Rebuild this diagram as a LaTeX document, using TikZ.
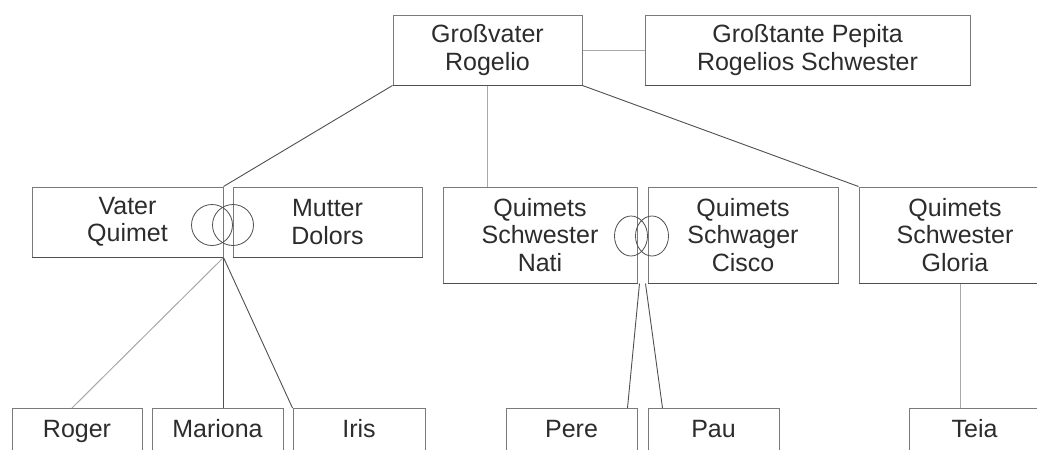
\documentclass[tikz,border=0pt]{standalone}
\usepackage{fontspec}
\setmainfont{Liberation Sans}
\usetikzlibrary{shapes.geometric}
\definecolor{txt}{HTML}{2C2C2C}
\definecolor{bord}{HTML}{7A7A7A}
\definecolor{dk}{HTML}{505050}
\definecolor{lt}{HTML}{A8A8A8}
\begin{document}
\begin{tikzpicture}[x=1pt,y=-1pt,
  box/.style={draw=bord, line width=1pt, fill=white, inner sep=0pt, align=center, text=txt,
    font=\fontsize{25}{27.5}\selectfont},
  lowbox/.style={box, anchor=north, text height=29pt, text depth=32pt, minimum width=#1},
  ring/.style={draw=dk, line width=0.8pt, ellipse, inner sep=0pt},
  dline/.style={draw=dk, line width=0.9pt},
  lline/.style={draw=lt, line width=1pt}]
\useasboundingbox (0,0) rectangle (1037,450);
\clip (0,0) rectangle (1037,450);
\fill[white] (0,0) rectangle (1037,450);

% top row
\node[box, minimum width=189pt, minimum height=70pt] (GV) at (487.5,50) {Großvater\\Rogelio};
\node[box, minimum width=325pt, minimum height=70pt] (GT) at (807.5,50) {Großtante Pepita\\Rogelios Schwester};

% middle row
\node[box, minimum width=191pt, minimum height=70pt] (Vater) at (127.5,222) {Vater\\Quimet};
\node[box, minimum width=189pt, minimum height=70pt] (Mutter) at (327.5,222) {Mutter\\Dolors};
\node[box, minimum width=194pt, minimum height=96pt] (Nati) at (540,235) {Quimets\\Schwester\\Nati};
\node[box, minimum width=190pt, minimum height=96pt] (Cisco) at (743,235) {Quimets\\Schwager\\Cisco};
\node[box, minimum width=192pt, minimum height=96pt] (Gloria) at (955,235) {Quimets\\Schwester\\Gloria};

% bottom row
\node[lowbox=130pt] (Roger) at (77,408) {Roger};
\node[lowbox=131pt] (Mariona) at (217.5,408) {Mariona};
\node[lowbox=132pt] (Iris) at (359,408) {Iris};
\node[lowbox=131pt] (Pere) at (571.5,408) {Pere};
\node[lowbox=131pt] (Pau) at (713.5,408) {Pau};
\node[lowbox=131pt] (Teia) at (974.5,408) {Teia};

% darker bottom edges
\foreach \n in {GV,GT,Vater,Mutter,Nati,Cisco,Gloria}
  \draw[dk, line width=1pt] (\n.south west) -- (\n.south east);

% marriage rings
\node[ring, minimum width=41pt, minimum height=41pt] (r1) at (212,225) {};
\node[ring, minimum width=41pt, minimum height=41pt] (r2) at (233,225) {};
\node[ring, minimum width=33pt, minimum height=40pt] (r3) at (631,236) {};
\node[ring, minimum width=33pt, minimum height=40pt] (r4) at (652,236) {};

% connectors
\draw[lline] (GV.east) -- (GT.west);
\draw[dline] (GV.south west) -- (Vater.north east);
\draw[lline] (GV.south) -- (GV.south |- Nati.north);
\draw[dline] (GV.south east) -- (Gloria.north west);

\draw[lline] (Vater.south east) -- ([xshift=-5pt]Roger.north);
\draw[dline] (Vater.south east) -- (Vater.south east |- Mariona.north);
\draw[dline] (Vater.south east) -- (Iris.north west);

\draw[dline] ([xshift=2pt]Nati.south east) -- ([xshift=-10pt]Pere.north east);
\draw[dline] ([xshift=-2pt]Cisco.south west) -- ([xshift=15pt]Pau.north west);

\draw[lline] ([xshift=5pt]Gloria.south) -- ([xshift=5pt]Gloria.south |- Teia.north);
\end{tikzpicture}
\end{document}
